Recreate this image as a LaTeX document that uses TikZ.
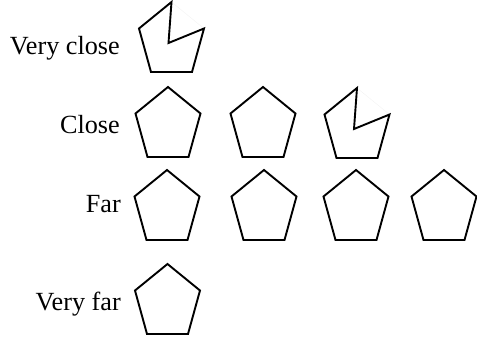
\documentclass[tikz,border=0pt]{standalone}
\usepackage{fontspec}
\setmainfont{Liberation Serif}
\usepackage{tikz}
\usetikzlibrary{positioning}
\tikzset{
  penta/.style  ={draw=black,line width=1.9pt,line join=miter},
  gap/.style    ={black!5,line width=0.4pt},
  lbl/.style    ={font=\fontsize{26.2}{30}\selectfont,anchor=base east,inner sep=0pt},
}
% full pentagon hanging from its apex
\newcommand{\fullpent}[1]{%
  \draw[penta] (#1) -- ++(32.5,26.5) -- ++(-12,43.5) -- ++(-41,0) -- ++(-12,-43.5) -- cycle;}
% pentagon with one side pushed in
\newcommand{\notchpent}[1]{%
  \draw[gap] (#1) -- ++(32.5,26.5);
  \draw[penta] (#1) -- ++(-3,41) -- ++(35.5,-14.5) -- ++(-12,43.5) -- ++(-41,0) -- ++(-12,-43.5) -- cycle;}

\begin{document}
\begin{tikzpicture}[x=1pt,y=-1pt]
\useasboundingbox (0,0) rectangle (477,337);

%% row labels
\node[lbl] (vclose) at (120,55)  {Very close};
\node[lbl] (close)  at (120,133) {Close};
\node[lbl] (far)    at (121,212) {Far};
\node[lbl] (vfar)   at (121,310) {Very far};

%% apexes
\coordinate (vc1) at (171.5,2);
\coordinate (cl1) at (168,87);
\coordinate (cl2) at (263,87);
\coordinate (cl3) at (357,88);
\coordinate (fa1) at (167,170);
\coordinate (fa2) at (264,170);
\coordinate (fa3) at (356,170);
\coordinate (fa4) at (444,170);
\coordinate (vf1) at (167.5,264);

\notchpent{vc1}
\foreach \p in {cl1,cl2,fa1,fa2,fa3,fa4,vf1}{
  \fullpent{\p}
}
\notchpent{cl3}
\end{tikzpicture}
\end{document}
